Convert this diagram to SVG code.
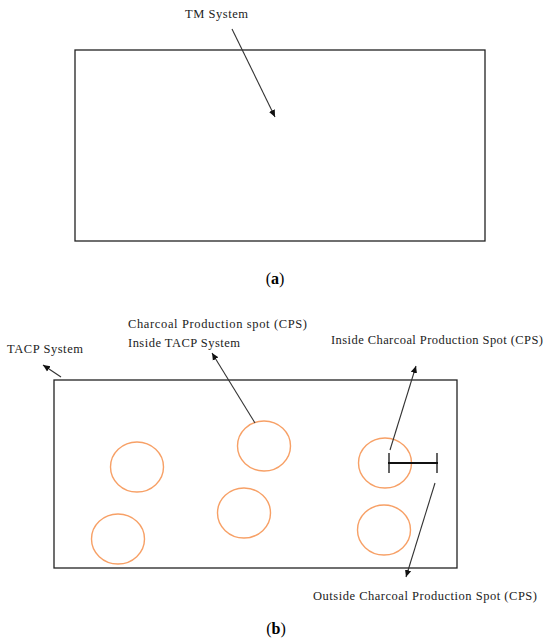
<svg xmlns="http://www.w3.org/2000/svg" width="550" height="641" viewBox="0 0 550 641">
<style>
text{font-family:"Liberation Serif","DejaVu Serif",serif;font-size:12.5px;fill:#222}
.box{fill:none;stroke:#222;stroke-width:1.3}
.cps{fill:none;stroke:#f7a066;stroke-width:1.4}
.arr{stroke:#333;stroke-width:1.1;fill:none;marker-end:url(#ah)}
.cap{font-size:16px;fill:#000}
</style>
<defs>
<marker id="ah" markerWidth="8" markerHeight="8" refX="7" refY="4" orient="auto" markerUnits="userSpaceOnUse">
<path d="M0,0.8 L7,4 L0,7.2 Z" fill="#111"/>
</marker>
</defs>
<g id="tm-system">
<rect class="box" x="75" y="50" width="410" height="191"/>
<text x="185" y="18" textLength="63">TM System</text>
</g>
<g id="caption-a"><text class="cap" x="275" y="284" text-anchor="middle">(<tspan font-weight="bold">a</tspan>)</text></g>
<g id="tacp-system">
<rect class="box" x="54" y="380" width="403" height="188"/>
<text x="7" y="353" textLength="76">TACP System</text>
</g>
<g id="cps-label">
<text x="128" y="328" textLength="179">Charcoal Production spot (CPS)</text>
<text x="128" y="347" textLength="112">Inside TACP System</text>
</g>
<g id="inside-label"><text x="331" y="344" textLength="212">Inside Charcoal Production Spot (CPS)</text></g>
<g id="outside-label"><text x="313" y="600" textLength="224">Outside Charcoal Production Spot (CPS)</text></g>
<g id="cps1"><ellipse class="cps" cx="137" cy="467" rx="26.5" ry="25"/></g>
<g id="cps2"><ellipse class="cps" cx="264" cy="446" rx="26.5" ry="25"/></g>
<g id="cps3"><ellipse class="cps" cx="244" cy="513" rx="26.5" ry="25"/></g>
<g id="cps4"><ellipse class="cps" cx="118" cy="539" rx="26.5" ry="25"/></g>
<g id="cps5"><ellipse class="cps" cx="385" cy="463" rx="26.5" ry="25"/></g>
<g id="cps6"><ellipse class="cps" cx="384" cy="530" rx="26.5" ry="25"/></g>
<g id="scale-bar" stroke="#111">
<line x1="388" y1="463" x2="438" y2="463" stroke-width="2"/>
<line x1="389" y1="453" x2="389" y2="473" stroke-width="1.3"/>
<line x1="437" y1="453" x2="437" y2="473" stroke-width="1.3"/>
</g>
<g id="connectors">
<line class="arr" x1="232" y1="29" x2="275" y2="117"/>
<line class="arr" x1="61" y1="377" x2="43" y2="365"/>
<line class="arr" x1="255" y1="423" x2="212" y2="353"/>
<line class="arr" x1="390" y1="450" x2="416" y2="366"/>
<line class="arr" x1="435" y1="483" x2="406" y2="577"/>
</g>
<g id="caption-b"><text class="cap" x="276" y="634" text-anchor="middle">(<tspan font-weight="bold">b</tspan>)</text></g>
</svg>
